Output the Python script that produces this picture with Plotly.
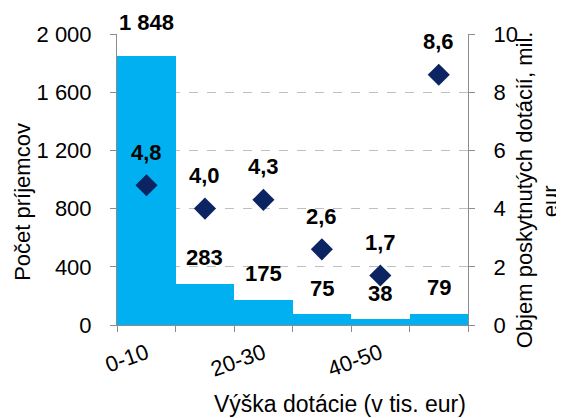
import plotly.graph_objects as go

categories = ["0-10", "10-20", "20-30", "30-40", "40-50", ">50"]
tick_labels = ["0-10", "", "20-30", "", "40-50", ""]
recipients = [1848, 283, 175, 75, 38, 79]
volume = [4.8, 4.0, 4.3, 2.6, 1.7, 8.6]
right_title_lines = ["Objem poskytnutých dotácií, mil.", "eur"]

FONT = "Liberation Sans, Arial, sans-serif"
FS = 22
BAR_COLOR = "#00B0F0"
MARK_COLOR = "#0D2463"
AXIS_COLOR = "#8C8C8C"

fig = go.Figure()
fig.add_trace(go.Bar(x=categories, y=recipients, marker=dict(color=BAR_COLOR, line=dict(width=0)),
                     yaxis="y", showlegend=False, hoverinfo="skip"))
fig.add_trace(go.Scatter(x=categories, y=volume, mode="markers", yaxis="y2",
                         marker=dict(symbol="diamond", size=17, color=MARK_COLOR),
                         showlegend=False, hoverinfo="skip"))

def fmt_int(v):
    return f"{v:,}".replace(",", " ")

annotations = []
for i, (c, v) in enumerate(zip(categories, recipients)):
    annotations.append(dict(x=c, y=v, xref="x", yref="y", text=fmt_int(v), showarrow=False,
                            yanchor="middle", yshift=34 if i == 0 else 26,
                            font=dict(family=FONT, size=FS, color="black", weight="bold")))
for c, v in zip(categories, volume):
    annotations.append(dict(x=c, y=v, xref="x", yref="y2", text=f"{v:.1f}".replace(".", ","),
                            showarrow=False, yanchor="middle", yshift=33,
                            font=dict(family=FONT, size=FS, color="black", weight="bold")))
annotations.append(dict(x=0.635, y=-0.27, xref="paper", yref="paper", text="Výška dotácie (v tis. eur)",
                        showarrow=False, xanchor="center", yanchor="middle",
                        font=dict(family=FONT, size=23, color="black")))
annotations.append(dict(x=-0.268, y=0.423, xref="paper", yref="paper", text="Počet príjemcov",
                        showarrow=False, xanchor="center", yanchor="middle", textangle=-90,
                        font=dict(family=FONT, size=FS, color="black")))
for txt, px, py in zip(right_title_lines, [1.162, 1.234], [0.466, 0.426]):
    annotations.append(dict(x=px, y=py, xref="paper", yref="paper", text=txt,
                            showarrow=False, xanchor="center", yanchor="middle", textangle=-90,
                            font=dict(family=FONT, size=FS, color="black")))

fig.update_layout(
    width=556, height=410,
    margin=dict(l=109, r=96, t=26, b=93),
    paper_bgcolor="white", plot_bgcolor="white",
    font=dict(family=FONT, size=FS, color="black"),
    separators=", ",
    bargap=0,
    annotations=annotations,
    xaxis=dict(
        type="category", tickvals=categories, ticktext=tick_labels, automargin=False,
        tickson="boundaries", ticks="outside", ticklen=6, tickcolor=AXIS_COLOR,
        showline=True, linecolor=AXIS_COLOR, linewidth=1, tickangle=-20,
        showgrid=False, ticklabelstandoff=6,
        tickfont=dict(family=FONT, size=FS, color="black"),
    ),
    yaxis=dict(
        range=[0, 2000], dtick=400, tick0=0, separatethousands=True, automargin=False,
        showline=True, linecolor=AXIS_COLOR, linewidth=1,
        ticks="outside", ticklen=6, tickcolor=AXIS_COLOR,
        showgrid=True, gridcolor="#BFBFBF", griddash="dash", gridwidth=1,
        zeroline=False, ticklabelstandoff=14,
        tickfont=dict(family=FONT, size=FS, color="black"),
    ),
    yaxis2=dict(
        range=[0, 10], dtick=2, tick0=0, overlaying="y", side="right", automargin=False,
        showline=True, linecolor=AXIS_COLOR, linewidth=1,
        ticks="outside", ticklen=6, tickcolor=AXIS_COLOR,
        showgrid=False, zeroline=False, ticklabelstandoff=14,
        tickfont=dict(family=FONT, size=FS, color="black"),
    ),
)

fig.write_html("out.html")
